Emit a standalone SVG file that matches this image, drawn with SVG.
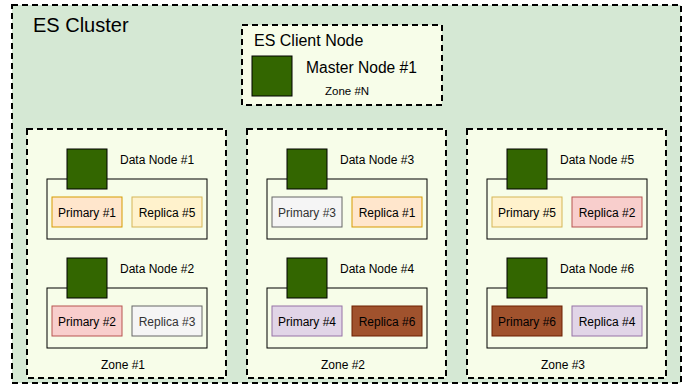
<svg xmlns="http://www.w3.org/2000/svg" width="688" height="387" viewBox="0 0 688 387">
<style>
text{font-family:"Liberation Sans",Arial,sans-serif;fill:#000}
.dash{stroke:#000;stroke-width:2;stroke-dasharray:6 4}
.cluster{fill:#d5e8d4}
.zone{fill:#f7fde9}
.dn{fill:none;stroke:#000;stroke-width:1}
.sq{fill:#336600;stroke:#000;stroke-width:1}
.lbl{font-size:12px}
.sh{font-size:12px;text-anchor:middle}
.orange{fill:#ffe6cc;stroke:#d79b00}
.yellow{fill:#fff2cc;stroke:#d6b656}
.red{fill:#f8cecc;stroke:#b85450}
.gray{fill:#f5f5f5;stroke:#666666}
.purple{fill:#e1d5e7;stroke:#9673a6}
.brown{fill:#a0522d;stroke:#6d1f00}
.gt{fill:#333333}
</style>
<g id="cluster">
<rect class="cluster dash" x="12" y="5" width="669" height="378"/>
<text x="33" y="32" style="font-size:20px">ES Cluster</text>
</g>
<g id="client-node">
<rect class="zone dash" x="242" y="25" width="200" height="80"/>
<text x="254" y="46" style="font-size:16px">ES Client Node</text>
<rect class="sq" x="252" y="56" width="40" height="40"/>
<text x="306" y="73" style="font-size:15.6px">Master Node #1</text>
<text x="325" y="95" style="font-size:11.5px">Zone #N</text>
</g>
<g id="zone1">
<rect class="zone dash" x="27" y="129" width="199" height="249"/>
<text x="101" y="369" class="lbl">Zone #1</text>
</g>
<g id="zone2">
<rect class="zone dash" x="247" y="129" width="199" height="249"/>
<text x="321" y="369" class="lbl">Zone #2</text>
</g>
<g id="zone3">
<rect class="zone dash" x="467" y="129" width="199" height="249"/>
<text x="541" y="369" class="lbl">Zone #3</text>
</g>
<g id="data-node-1">
<rect class="dn" x="47" y="179" width="160" height="60"/>
<rect class="sq" x="67" y="149" width="40" height="40"/>
<text x="120" y="164" class="lbl">Data Node #1</text>
<rect class="orange" x="52" y="197" width="70" height="30"/>
<text x="87" y="216.5" class="sh">Primary #1</text>
<rect class="yellow" x="132" y="197" width="70" height="30"/>
<text x="167" y="216.5" class="sh">Replica #5</text>
</g>
<g id="data-node-2">
<rect class="dn" x="47" y="288" width="160" height="60"/>
<rect class="sq" x="67" y="258" width="40" height="40"/>
<text x="120" y="273" class="lbl">Data Node #2</text>
<rect class="red" x="52" y="306" width="70" height="30"/>
<text x="87" y="325.5" class="sh">Primary #2</text>
<rect class="gray" x="132" y="306" width="70" height="30"/>
<text x="167" y="325.5" class="sh gt">Replica #3</text>
</g>
<g id="data-node-3">
<rect class="dn" x="267" y="179" width="160" height="60"/>
<rect class="sq" x="287" y="149" width="40" height="40"/>
<text x="340" y="164" class="lbl">Data Node #3</text>
<rect class="gray" x="272" y="197" width="70" height="30"/>
<text x="307" y="216.5" class="sh gt">Primary #3</text>
<rect class="orange" x="352" y="197" width="70" height="30"/>
<text x="387" y="216.5" class="sh">Replica #1</text>
</g>
<g id="data-node-4">
<rect class="dn" x="267" y="288" width="160" height="60"/>
<rect class="sq" x="287" y="258" width="40" height="40"/>
<text x="340" y="273" class="lbl">Data Node #4</text>
<rect class="purple" x="272" y="306" width="70" height="30"/>
<text x="307" y="325.5" class="sh">Primary #4</text>
<rect class="brown" x="352" y="306" width="70" height="30"/>
<text x="387" y="325.5" class="sh">Replica #6</text>
</g>
<g id="data-node-5">
<rect class="dn" x="487" y="179" width="160" height="60"/>
<rect class="sq" x="507" y="149" width="40" height="40"/>
<text x="560" y="164" class="lbl">Data Node #5</text>
<rect class="yellow" x="492" y="197" width="70" height="30"/>
<text x="527" y="216.5" class="sh">Primary #5</text>
<rect class="red" x="572" y="197" width="70" height="30"/>
<text x="607" y="216.5" class="sh">Replica #2</text>
</g>
<g id="data-node-6">
<rect class="dn" x="487" y="288" width="160" height="60"/>
<rect class="sq" x="507" y="258" width="40" height="40"/>
<text x="560" y="273" class="lbl">Data Node #6</text>
<rect class="brown" x="492" y="306" width="70" height="30"/>
<text x="527" y="325.5" class="sh">Primary #6</text>
<rect class="purple" x="572" y="306" width="70" height="30"/>
<text x="607" y="325.5" class="sh">Replica #4</text>
</g>
<g id="connectors"/>
</svg>
